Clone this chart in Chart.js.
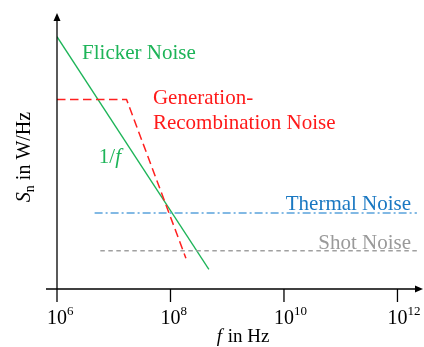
<!DOCTYPE html>
<html>
<head>
<meta charset="utf-8">
<script src="https://cdn.jsdelivr.net/npm/chart.js@4"></script>
<style>
  html, body { margin: 0; padding: 0; background: #fff; }
  #wrap { width: 424px; height: 347px; position: relative; }
</style>
</head>
<body>
<div id="wrap"><canvas id="c" width="424" height="347"></canvas></div>
<script>
// Frequencies in Hz, spectral density in arbitrary units (log-log sketch)
const flickerF = [1e6, 4.75e8];
const flickerS = [800, 1.68];

const grF = [1e6, 1.68e7, 1.87e8];
const grS = [152, 152, 2.26];

const thermalF = [4.6e6, 2.2e12];
const thermalS = [7.5, 7.5];

const shotF = [5.8e6, 2.2e12];
const shotS = [2.76, 2.76];

const xTickValues = [1e6, 1e8, 1e10, 1e12];
const xTickExponents = ['6', '8', '10', '12'];

const X_MIN = 1e6, X_MAX = Math.pow(10, 12.45);
const Y_MIN = 1, Y_MAX = 1500;

const SERIF = '"Liberation Serif", "Times New Roman", serif';

function pts(xs, ys) { return xs.map((x, i) => ({ x, y: ys[i] })); }

// Text annotations, anchored in data coordinates
const notes = [
  { text: 'Flicker Noise', x: 2.77e6, y: 440, color: '#1db458', align: 'left' },
  { text: '1/', italicTail: 'f', x: 5.46e6, y: 28.2, color: '#1db458', align: 'left' },
  { text: 'Generation-', x: 4.9e7, y: 134.6, color: '#ff1a1a', align: 'left' },
  { text: 'Recombination Noise', x: 4.9e7, y: 69.4, color: '#ff1a1a', align: 'left' },
  { text: 'Thermal Noise', x: 1.74e12, y: 8.11, color: '#1a78c2', align: 'right' },
  { text: 'Shot Noise', x: 1.74e12, y: 2.89, color: '#9a9a9a', align: 'right' }
];

const axesPlugin = {
  id: 'sketchAxes',
  afterDraw(chart) {
    const ctx = chart.ctx;
    const xs = chart.scales.x, ys = chart.scales.y;
    const x0 = xs.getPixelForValue(X_MIN);
    const y0 = ys.getPixelForValue(Y_MIN);
    const xEnd = xs.right, yTop = ys.top;
    ctx.save();
    ctx.strokeStyle = '#000';
    ctx.fillStyle = '#000';
    ctx.lineWidth = 1.3;

    // x axis
    ctx.beginPath();
    ctx.moveTo(x0 - 11, y0);
    ctx.lineTo(xEnd - 6, y0);
    ctx.stroke();
    ctx.beginPath();
    ctx.moveTo(xEnd, y0);
    ctx.lineTo(xEnd - 8, y0 - 3.5);
    ctx.lineTo(xEnd - 8, y0 + 3.5);
    ctx.closePath();
    ctx.fill();

    // y axis
    ctx.beginPath();
    ctx.moveTo(x0, y0);
    ctx.lineTo(x0, yTop + 6);
    ctx.stroke();
    ctx.beginPath();
    ctx.moveTo(x0, yTop);
    ctx.lineTo(x0 - 3.5, yTop + 8);
    ctx.lineTo(x0 + 3.5, yTop + 8);
    ctx.closePath();
    ctx.fill();

    // ticks and labels
    xTickValues.forEach((v, i) => {
      const px = xs.getPixelForValue(v);
      ctx.beginPath();
      ctx.moveTo(px, y0);
      ctx.lineTo(px, y0 + 13);
      ctx.stroke();
      ctx.font = '20px ' + SERIF;
      ctx.textBaseline = 'alphabetic';
      ctx.textAlign = 'left';
      const w = ctx.measureText('10').width;
      ctx.fillText('10', px - w / 2, y0 + 35);
      ctx.font = '13px ' + SERIF;
      ctx.fillText(xTickExponents[i], px + w / 2, y0 + 26);
    });

    // x title: f in Hz
    ctx.textAlign = 'left';
    ctx.font = 'italic 19px ' + SERIF;
    const wf = ctx.measureText('f').width;
    ctx.font = '19px ' + SERIF;
    const wr = ctx.measureText(' in Hz').width;
    const cx = 242.5;
    let sx = cx - (wf + wr) / 2;
    ctx.font = 'italic 19px ' + SERIF;
    ctx.fillText('f', sx, 342);
    ctx.font = '19px ' + SERIF;
    ctx.fillText(' in Hz', sx + wf + 1, 342);

    // y title: S_n in W/Hz, rotated
    ctx.save();
    ctx.translate(30, 157);
    ctx.rotate(-Math.PI / 2);
    ctx.font = 'italic 20px ' + SERIF;
    const wS = ctx.measureText('S').width;
    ctx.font = '14px ' + SERIF;
    const wn = ctx.measureText('n').width;
    ctx.font = '20px ' + SERIF;
    const wt = ctx.measureText(' in W/Hz').width;
    let ty = -(wS + wn + wt) / 2;
    ctx.font = 'italic 20px ' + SERIF;
    ctx.fillText('S', ty, 0);
    ctx.font = '14px ' + SERIF;
    ctx.fillText('n', ty + wS, 4);
    ctx.font = '20px ' + SERIF;
    ctx.fillText(' in W/Hz', ty + wS + wn, 0);
    ctx.restore();

    // annotations
    notes.forEach(n => {
      const px = xs.getPixelForValue(n.x);
      const py = ys.getPixelForValue(n.y);
      ctx.fillStyle = n.color;
      ctx.font = '21px ' + SERIF;
      let w = ctx.measureText(n.text).width;
      let wi = 0;
      if (n.italicTail) {
        ctx.font = 'italic 21px ' + SERIF;
        wi = ctx.measureText(n.italicTail).width;
      }
      const startX = n.align === 'right' ? px - w - wi : px;
      ctx.font = '21px ' + SERIF;
      ctx.textAlign = 'left';
      ctx.fillText(n.text, startX, py);
      if (n.italicTail) {
        ctx.font = 'italic 21px ' + SERIF;
        ctx.fillText(n.italicTail, startX + w, py);
      }
    });
    ctx.restore();
  }
};

new Chart(document.getElementById('c'), {
  type: 'line',
  data: {
    datasets: [
      { label: 'Thermal Noise', data: pts(thermalF, thermalS), borderColor: '#5aa3dc', borderWidth: 1.6, borderDash: [8, 3, 2, 3] },
      { label: 'Shot Noise', data: pts(shotF, shotS), borderColor: '#a0a0a0', borderWidth: 1.5, borderDash: [4.5, 3.5] },
      { label: 'Generation-Recombination Noise', data: pts(grF, grS), borderColor: '#ff2020', borderWidth: 1.5, borderDash: [8.5, 4.5] },
      { label: 'Flicker Noise', data: pts(flickerF, flickerS), borderColor: '#1db458', borderWidth: 1.3 }
    ]
  },
  options: {
    responsive: false,
    animation: false,
    events: [],
    layout: { padding: { left: 57, right: 1, top: 13, bottom: 58 } },
    elements: { point: { radius: 0 }, line: { tension: 0 } },
    plugins: { legend: { display: false }, tooltip: { enabled: false } },
    scales: {
      x: { type: 'logarithmic', min: X_MIN, max: X_MAX, display: false },
      y: { type: 'logarithmic', min: Y_MIN, max: Y_MAX, display: false }
    }
  },
  plugins: [axesPlugin]
});
</script>
</body>
</html>
